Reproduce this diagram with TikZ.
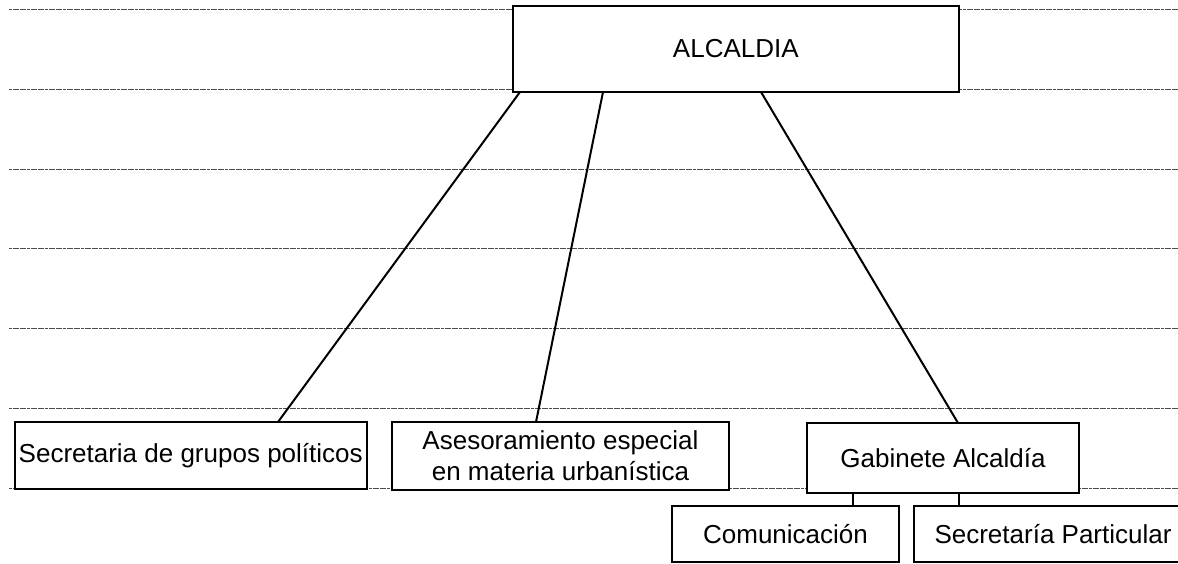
\documentclass[tikz,border=0pt]{standalone}
\usepackage{fontspec}
\setmainfont{Liberation Sans}
\begin{document}
\begin{tikzpicture}[x=1pt,y=-1pt,
  box/.style={draw=black, line width=2pt, fill=white, rectangle, inner sep=0pt, outer sep=0pt,
    align=center, font=\fontsize{26}{31}\selectfont},
  conn/.style={draw=black, line width=2pt},
  rule/.style={draw=black!70, line width=1pt, dash pattern=on 3pt off 0.6pt}]
\useasboundingbox (0,0) rectangle (1178,564);
\clip (0,0) rectangle (1178,564);
\fill[white] (0,0) rectangle (1178,564);
% horizontal rules
\foreach \yy in {10,89.7,169.3,249,328.7,408.4,488}
  \draw[rule] (9,\yy) -- (1178,\yy);
% boxes
\node[box, minimum width=446.3pt, minimum height=86.3pt] (alc) at (735.85,48.85) {ALCALDIA};
\node[box, minimum width=352pt, minimum height=67pt] (sec) at (190.7,455.5) {Secretaria de grupos políticos};
\node[box, minimum width=337pt, minimum height=68pt] (ase) at (560.5,456) {Asesoramiento especial\\en materia urbanística};
\node[box, minimum width=272pt, minimum height=70pt] (gab) at (943,458) {Gabinete Alcaldía};
\node[box, minimum width=227pt, minimum height=56pt] (com) at (785.5,534) {Comunicación};
\node[box, minimum width=278pt, minimum height=56pt] (sp) at (1053,534) {Secretaría Particular};
% connectors
\draw[conn] ([xshift=-215.85pt]alc.south) -- ([xshift=87.3pt]sec.north);
\draw[conn] ([xshift=-132.85pt]alc.south) -- ([xshift=-24.5pt]ase.north);
\draw[conn] ([xshift=25.15pt]alc.south) -- ([xshift=15pt]gab.north);
\draw[conn] ([xshift=-90pt]gab.south) -- ([xshift=67.5pt]com.north);
\draw[conn] ([xshift=16pt]gab.south) -- ([xshift=-94pt]sp.north);
\end{tikzpicture}
\end{document}
